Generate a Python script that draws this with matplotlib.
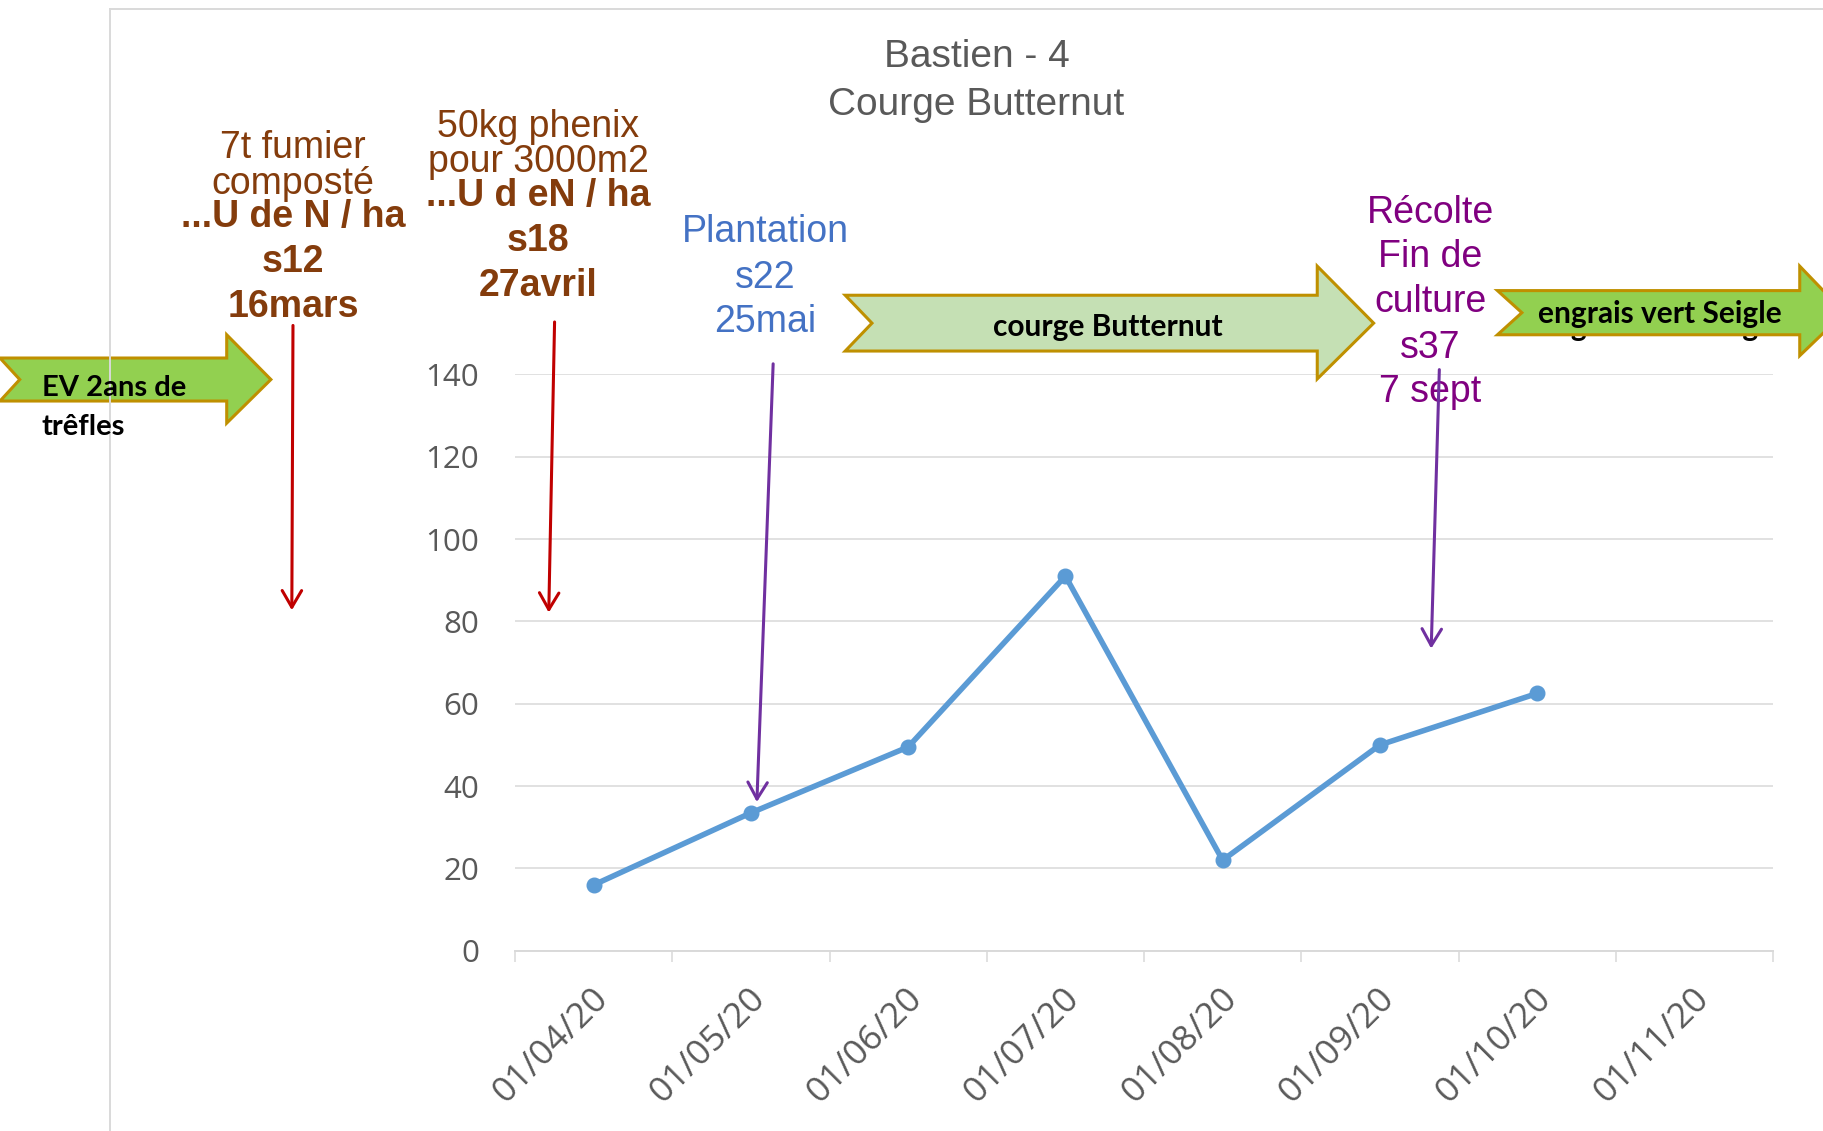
import numpy as np
import matplotlib.pyplot as plt
from matplotlib.patches import Polygon, FancyArrowPatch
from matplotlib.lines import Line2D
from matplotlib.transforms import ScaledTranslation

# layout helper: positions measured on a 1568 x 973 copy of the chart
W, H = 1568.0, 973.0

months = ['01/04/20', '01/05/20', '01/06/20', '01/07/20',
          '01/08/20', '01/09/20', '01/10/20', '01/11/20']
values = [16, 33.5, 49.5, 91, 22, 50, 62.5]
yticks = [0, 20, 40, 60, 80, 100, 120, 140]

title_lines = ['Bastien - 4', 'Courge Butternut']
fumier_lines = ['7t fumier', 'composté', '...U de N / ha', 's12', '16mars']
phenix_lines = ['50kg phenix', 'pour 3000m2', '...U d eN / ha', 's18', '27avril']
plantation_lines = ['Plantation', 's22', '25mai']
recolte_lines = ['Récolte', 'Fin de', 'culture', 's37', '7 sept']

NARROW = ['Liberation Sans Narrow', 'Liberation Sans', 'DejaVu Sans']
BOXFONT = ['Lato', 'DejaVu Sans']
GRID = '#D9D9D9'
BROWN = '#843C0C'


def fp(x, y):
    return (x / W, 1 - y / H)


def block_arrow(fig, x0, xh, ytop, ybot, htop, hbot, notch, fc):
    ymid = (ytop + ybot) / 2
    tip = xh + (hbot - htop) / 2
    pts = [(x0, ytop), (xh, ytop), (xh, htop), (tip, ymid),
           (xh, hbot), (xh, ybot), (x0, ybot), (x0 + notch, ymid)]
    poly = Polygon([fp(*p) for p in pts], closed=True, transform=fig.transFigure,
                   facecolor=fc, edgecolor='#BF9000', lw=2.2, zorder=1, clip_on=False)
    fig.add_artist(poly)


def line_arrow(fig, a, b, color):
    arr = FancyArrowPatch(fp(*a), fp(*b), transform=fig.transFigure,
                          arrowstyle='->,head_length=12,head_width=7', mutation_scale=1,
                          color=color, lw=2.2, shrinkA=0, shrinkB=0, zorder=4)
    fig.add_artist(arr)


def text_block(fig, lines, x, ys, color, size, bold_from=99):
    for i, (s, y) in enumerate(zip(lines, ys)):
        fig.text(*fp(x, y + 3), s, ha='center', va='center', color=color, fontsize=size,
                 family=NARROW, fontweight='bold' if i >= bold_from else 'normal', zorder=3)


fig = plt.figure(figsize=(18.23, 11.31), dpi=100)
ax = fig.add_axes([443 / W, 1 - 818 / H, (1525 - 443) / W, (818 - 322) / H])

x = np.arange(len(values))
ax.plot(x, values, color='#5B9BD5', lw=4, marker='o', ms=10.5, zorder=3, clip_on=False)

ax.set_xlim(-0.5, len(months) - 0.5)
ax.set_ylim(0, 140)
ax.set_yticks(yticks)
ax.set_xticks(np.arange(len(months)))
ax.set_xticklabels(months, rotation=45, ha='right', rotation_mode='anchor')
ax.set_xticks(np.arange(-0.5, len(months)), minor=True)
for sp in ['top', 'left', 'right']:
    ax.spines[sp].set_visible(False)
ax.spines['bottom'].set_color(GRID)
ax.spines['bottom'].set_linewidth(1.4)
ax.yaxis.grid(True, color=GRID, lw=1.1)
ax.set_axisbelow(True)
ax.tick_params(axis='y', length=0, pad=26, labelsize=22.5, labelcolor='#595959')
ax.tick_params(axis='x', which='major', length=0, pad=22, labelsize=25.5, labelcolor='#595959')
ax.tick_params(axis='x', which='minor', length=8, width=1.1, color=GRID)
for lbl in ax.get_xticklabels() + ax.get_yticklabels():
    lbl.set_fontfamily(['Open Sans', 'DejaVu Sans'])
for lbl in ax.get_xticklabels():
    lbl.set_transform(lbl.get_transform() + ScaledTranslation(-0.03, 0, fig.dpi_scale_trans))

# chart area border (top and left edges only visible)
fig.add_artist(Line2D([95 / W, 1], [1 - 8 / H, 1 - 8 / H], transform=fig.transFigure, color=GRID, lw=1.4))
fig.add_artist(Line2D([95 / W, 95 / W], [1 - 8 / H, 0], transform=fig.transFigure, color=GRID, lw=1.4))

# title
fig.text(*fp(840, 49), title_lines[0], ha='center', va='center', fontsize=28, color='#595959', family=NARROW)
fig.text(*fp(840, 90), title_lines[1], ha='center', va='center', fontsize=28, color='#595959', family=NARROW)

# phase arrows
block_arrow(fig, 0, 195, 308, 345, 288, 364, 17, '#92D050')
block_arrow(fig, 727, 1133, 254, 302, 229, 326, 23, '#C5E0B4')
fig.text(*fp(1428, 281), 'engrais vert Seigle', ha='center', va='center', fontsize=21.5,
         fontweight='bold', family=BOXFONT, color='black', zorder=0.5)
block_arrow(fig, 1288, 1548, 250, 288, 229, 306, 21, '#92D050')

fig.text(*fp(36, 334), 'EV 2ans de', ha='left', va='center', fontsize=21, fontweight='bold', family=BOXFONT)
fig.text(*fp(36, 367), 'trêfles', ha='left', va='center', fontsize=21, fontweight='bold', family=BOXFONT)
fig.text(*fp(953, 281), 'courge Butternut', ha='center', va='center', fontsize=21.5, fontweight='bold', family=BOXFONT)
fig.text(*fp(1428, 270), 'engrais vert Seigle', ha='center', va='center', fontsize=21.5,
         fontweight='bold', family=BOXFONT, zorder=3)

# annotations
text_block(fig, fumier_lines, 252, [124, 155, 184, 222, 261], BROWN, 27, bold_from=2)
text_block(fig, phenix_lines, 463, [106, 136, 166, 204, 243], BROWN, 27, bold_from=2)
text_block(fig, plantation_lines, 658, [197, 236, 274], '#4472C4', 27)
text_block(fig, recolte_lines, 1230, [180, 218, 257, 296, 334], '#800080', 27)

line_arrow(fig, (252, 280), (251, 525), '#C00000')
line_arrow(fig, (477, 277), (472, 527), '#C00000')
line_arrow(fig, (665, 313), (651, 690), '#7030A0')
line_arrow(fig, (1238, 318), (1231, 558), '#7030A0')

fig.savefig('out.png', dpi=100)
